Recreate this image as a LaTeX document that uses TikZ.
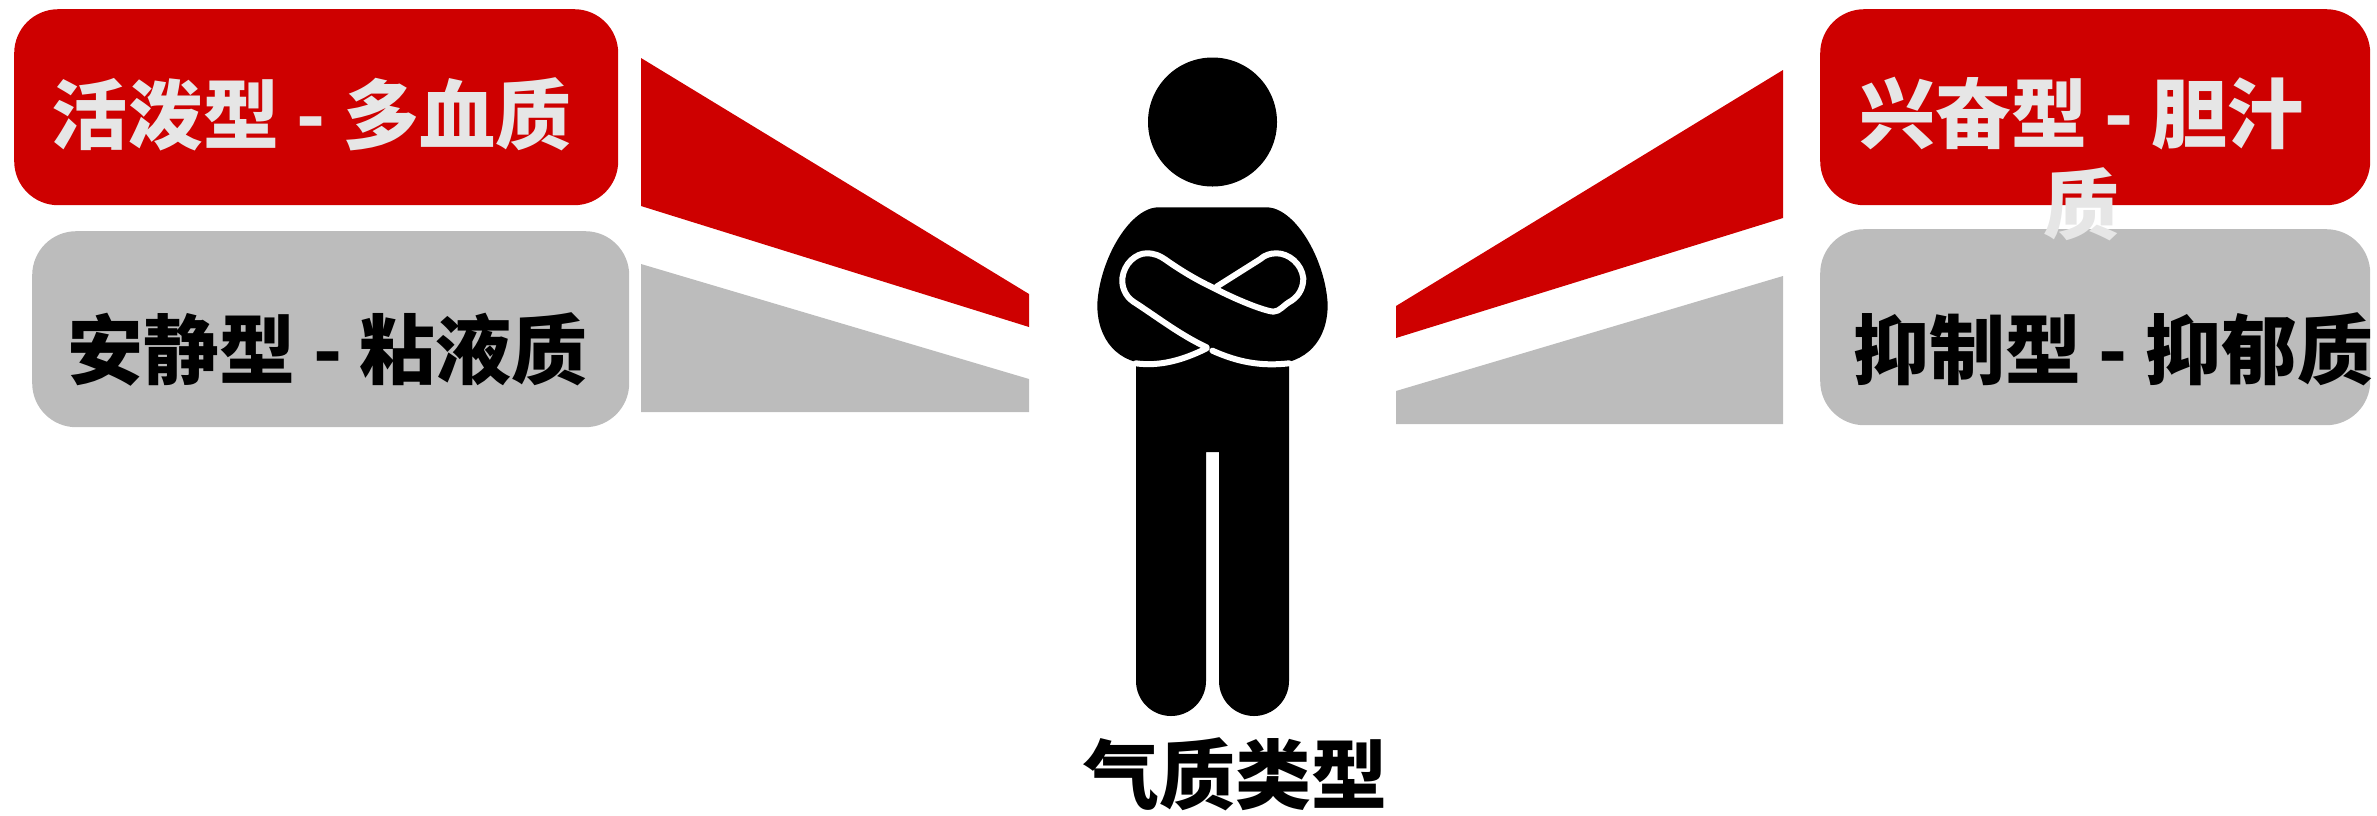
\documentclass[tikz,border=0pt]{standalone}
\usepackage{fontspec}
\usepackage{xcolor}
\usetikzlibrary{positioning}
\newfontfamily\cjk{Noto Sans CJK SC Black}
\definecolor{tempred}{HTML}{CE0000}
\definecolor{tempgray}{HTML}{BCBCBC}
\definecolor{lightlab}{HTML}{E6E6E6}

\begin{document}
\begin{tikzpicture}[
  x=1pt, y=-1pt,
  box/.style={rounded corners=44pt, minimum height=196pt, inner sep=0pt, anchor=north west},
  lab/.style={font=\fontsize{76}{91}\selectfont\cjk, align=center, inner sep=0pt},
  gap/.style={white, line width=6pt, line cap=round, line join=round}
]
\useasboundingbox (0,0) rectangle (2377,815);

% boxes on both sides
\node[box, fill=tempred, minimum width=604pt] (sanguine) at (14,9) {};
\node[box, fill=tempgray, minimum width=597pt] (phlegm) at (32,231) {};
\node[box, fill=tempred, minimum width=550pt] (choler) at (1820,9) {};
\node[box, fill=tempgray, minimum width=550pt] (melan) at (1820,229) {};

\node[lab, text=lightlab] (sanguinelab) at ([xshift=-5pt,yshift=-7pt]sanguine.center) {活泼型 - 多血质};
\node[lab, text=black] (phlegmlab) at ([xshift=-3pt,yshift=-20pt]phlegm.center) {安静型 - 粘液质};
\node[lab, text=lightlab] (cholerlab) at ([xshift=-14pt,yshift=-52pt]choler.center) {兴奋型 - 胆汁\\质};
\node[lab, text=black] (melanlab) at ([xshift=18pt,yshift=-22pt]melan.center) {抑制型 - 抑郁质};

% wedges
\fill[tempred] (641,58) -- (1029,294) -- (1029,327) -- (641,206) -- cycle;
\fill[tempgray] (641,264) -- (1029,379) -- (1029,412) -- (641,412) -- cycle;
\fill[tempred] (1783,70) -- (1396,306) -- (1396,338) -- (1783,218) -- cycle;
\fill[tempgray] (1783,276) -- (1396,391) -- (1396,424) -- (1783,424) -- cycle;

% figure
\fill (1212.5,122) circle (64.5);
\fill (1136,363) -- (1289,363) -- (1289,681) arc[start angle=0, end angle=-180, radius=35, y radius=-35]
  -- (1219,452) -- (1206,452) -- (1206,681) arc[start angle=0, end angle=-180, radius=35, y radius=-35] -- cycle;
\begin{scope}[shift={(1050,30)}, x=0.3333pt, y=-0.3333pt]
  \fill (320,532) -- (655,532) .. controls (740,540) and (825,690) .. (833,820)
    .. controls (835,930) and (770,1003) .. (660,1003) -- (310,1003)
    .. controls (205,1003) and (140,930) .. (142,820)
    .. controls (150,690) and (235,540) .. (320,532) -- cycle;
  \draw[gap] (257,1000) .. controls (330,1010) and (400,990) .. (470,955);
  \draw[gap] (487,962) .. controls (560,995) and (630,1010) .. (718,1000);
  \draw[gap] (470,952) .. controls (390,915) and (320,860) .. (250,815)
    .. controls (225,798) and (215,770) .. (217,745)
    .. controls (222,700) and (258,670) .. (290,670)
    .. controls (315,670) and (330,678) .. (345,688)
    .. controls (390,720) and (440,750) .. (487,772)
    .. controls (560,810) and (640,842) .. (670,845)
    .. controls (690,845) and (700,825) .. (725,812)
    .. controls (750,795) and (760,770) .. (760,745)
    .. controls (755,700) and (715,670) .. (680,670)
    .. controls (660,670) and (645,675) .. (630,688) -- (500,770);
\end{scope}

\node[lab, text=black] (title) at (1235,774) {气质类型};
\end{tikzpicture}
\end{document}
